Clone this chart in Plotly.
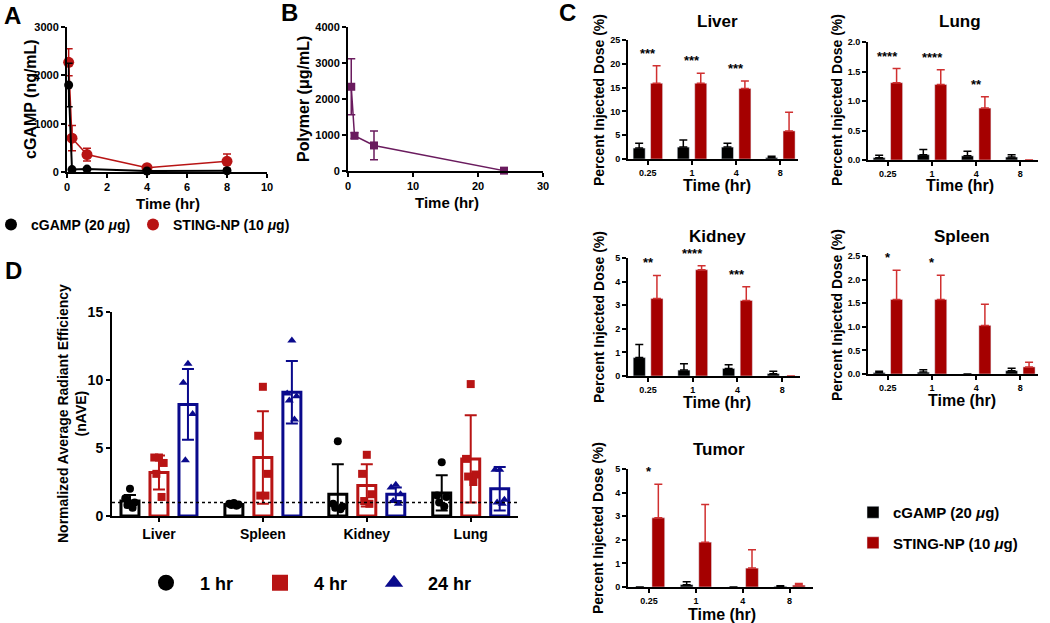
import plotly.graph_objects as go

W, H = 1050, 623

# ---- A: plasma cGAMP (ng/mL)
a_time = [0.083, 0.25, 1, 4, 8]
a_cgamp = [1800, 50, 60, 20, 25]
a_cgamp_sd = [450, 0, 10, 5, 5]
a_np = [2270, 700, 360, 90, 220]
a_np_sd = [280, 260, 130, 40, 150]

# ---- B: plasma polymer (ug/mL)
b_time = [0.5, 1, 4, 24]
b_poly = [2340, 980, 710, 10]
b_poly_sd = [780, 80, 400, 30]

# ---- C: percent injected dose
c_times = ["0.25", "1", "4", "8"]
liver_cgamp = [2.3, 2.5, 2.5, 0.3]
liver_cgamp_sd = [1.0, 1.5, 0.8, 0.3]
liver_np = [15.9, 15.9, 14.8, 5.9]
liver_np_sd = [3.7, 2.1, 1.6, 3.9]
liver_sig = ["***", "***", "***", ""]

lung_cgamp = [0.04, 0.09, 0.07, 0.05]
lung_cgamp_sd = [0.04, 0.09, 0.08, 0.04]
lung_np = [1.31, 1.28, 0.88, 0]
lung_np_sd = [0.24, 0.25, 0.19, 0]
lung_sig = ["****", "****", "**", ""]

kidney_cgamp = [0.78, 0.25, 0.32, 0.1]
kidney_cgamp_sd = [0.55, 0.27, 0.16, 0.1]
kidney_np = [3.28, 4.5, 3.2, 0]
kidney_np_sd = [0.98, 0.17, 0.58, 0]
kidney_sig = ["**", "****", "***", ""]

spleen_cgamp = [0.03, 0.04, 0, 0.07]
spleen_cgamp_sd = [0.03, 0.05, 0, 0.05]
spleen_np = [1.58, 1.58, 1.03, 0.15]
spleen_np_sd = [0.62, 0.51, 0.45, 0.1]
spleen_sig = ["*", "*", "", ""]

tumor_cgamp = [0, 0.1, 0, 0.03]
tumor_cgamp_sd = [0, 0.12, 0, 0.02]
tumor_np = [2.93, 1.9, 0.8, 0.08]
tumor_np_sd = [1.42, 1.6, 0.78, 0.07]
tumor_sig = ["*", "", "", ""]

# ---- D: normalized average radiant efficiency
d_organs = ["Liver", "Spleen", "Kidney", "Lung"]
d_1hr_mean = [1.1, 0.85, 1.6, 1.7]
d_1hr_sd = [0.45, 0.12, 2.2, 1.3]
d_1hr_pts = [[2.0, 1.3, 1.0, 0.8, 0.6], [0.95, 0.9, 0.85, 0.8, 0.75],
             [5.5, 0.9, 0.7, 0.6, 0.5], [3.95, 1.5, 1.4, 1.0, 0.7]]
d_4hr_mean = [3.2, 4.3, 2.25, 4.2]
d_4hr_sd = [1.25, 3.4, 1.55, 3.2]
d_4hr_pts = [[4.3, 4.3, 3.9, 3.1, 1.4], [9.5, 5.9, 3.1, 1.5, 1.5],
             [4.5, 3.1, 1.6, 1.1, 0.9], [9.7, 4.2, 3.05, 2.9, 2.5]]
d_24hr_mean = [8.2, 9.1, 1.6, 2.0]
d_24hr_sd = [2.6, 2.3, 0.5, 1.6]
d_24hr_pts = [[11.2, 9.8, 7.5, 4.1], [12.9, 9.0, 8.8, 8.5, 7.1],
              [2.3, 2.1, 1.6, 1.1, 0.9], [3.4, 3.4, 1.2, 1.0, 0.9]]

BLACK = "#000000"
RED = "#a50000"
RED_ERR = "#d03030"
RED_A = "#b81414"
PURPLE = "#6a1b5e"
BLUE = "#0a0a8c"
FONT = "Liberation Sans, Arial, sans-serif"

JITTER = [0.0, -0.045, 0.045, -0.025, 0.025]
SLOT, BARW = 0.279, 0.173


def dx(x0, x1):
    return [x0 / W, x1 / W]


def dy(y0, y1):
    return [1 - y1 / H, 1 - y0 / H]


def note(x, y, text, size, angle=0):
    return dict(x=x / W, y=1 - y / H, xref="paper", yref="paper", text=text,
                showarrow=False, textangle=angle, xanchor="center", yanchor="middle",
                font=dict(size=size, family=FONT, color="black", weight="bold"))


def axis(**kw):
    base = dict(showline=True, linecolor="black", linewidth=2, ticks="outside",
                ticklen=4, tickwidth=1.5, tickcolor="black", showgrid=False,
                zeroline=False, tickfont=dict(size=10, family=FONT, weight="bold"))
    base.update(kw)
    return base


fig = go.Figure()

# ---- A
fig.add_trace(go.Scatter(
    x=a_time, y=a_np, mode="lines+markers", xaxis="x", yaxis="y",
    line=dict(color=RED_A, width=1.5), marker=dict(size=11, color=RED_A),
    error_y=dict(array=a_np_sd, color=RED_A, thickness=1.5, width=4),
    showlegend=False, cliponaxis=False))
fig.add_trace(go.Scatter(
    x=a_time, y=a_cgamp, mode="lines+markers", xaxis="x", yaxis="y",
    line=dict(color=BLACK, width=2), marker=dict(size=9, color=BLACK),
    error_y=dict(array=a_cgamp_sd, color=BLACK, thickness=1.5, width=4),
    showlegend=False, cliponaxis=False))
for name, col, lw in [("cGAMP (20 <i>μ</i>g)", BLACK, 97), ("STING-NP (10 <i>μ</i>g)", RED_A, 150)]:
    fig.add_trace(go.Scatter(x=[None], y=[None], mode="markers", name=name,
                             marker=dict(size=12, color=col), xaxis="x", yaxis="y",
                             legend="legend", legendwidth=lw))

# ---- B
fig.add_trace(go.Scatter(
    x=b_time, y=b_poly, mode="lines+markers", xaxis="x2", yaxis="y2",
    line=dict(color=PURPLE, width=1.5), marker=dict(size=8, color=PURPLE, symbol="square"),
    error_y=dict(array=b_poly_sd, color=PURPLE, thickness=1.5, width=4),
    showlegend=False, cliponaxis=False))

# ---- C
organs_c = [
    ("Liver", liver_cgamp, liver_cgamp_sd, liver_np, liver_np_sd, liver_sig, "3"),
    ("Lung", lung_cgamp, lung_cgamp_sd, lung_np, lung_np_sd, lung_sig, "4"),
    ("Kidney", kidney_cgamp, kidney_cgamp_sd, kidney_np, kidney_np_sd, kidney_sig, "5"),
    ("Spleen", spleen_cgamp, spleen_cgamp_sd, spleen_np, spleen_np_sd, spleen_sig, "6"),
    ("Tumor", tumor_cgamp, tumor_cgamp_sd, tumor_np, tumor_np_sd, tumor_sig, "7"),
]
annotations = []
for k, (organ, cg, cg_sd, np_, np_sd, sig, ax) in enumerate(organs_c):
    first = k == 0
    fig.add_trace(go.Bar(
        x=c_times, y=cg, xaxis="x" + ax, yaxis="y" + ax, marker_color=BLACK,
        error_y=dict(array=cg_sd, arrayminus=[0] * 4, symmetric=False,
                     color=BLACK, thickness=1.5, width=4),
        name="cGAMP (20 <i>μ</i>g)", legendgroup="cgamp", showlegend=first,
        legend="legend2"))
    fig.add_trace(go.Bar(
        x=c_times, y=np_, xaxis="x" + ax, yaxis="y" + ax, marker_color=RED,
        error_y=dict(array=np_sd, arrayminus=[0] * 4, symmetric=False,
                     color=RED_ERR, thickness=1.5, width=4),
        name="STING-NP (10 <i>μ</i>g)", legendgroup="np", showlegend=first,
        legend="legend2"))
    # significance stars, placed by category index above the error bar
    for i, (s, v, e) in enumerate(zip(sig, np_, np_sd)):
        if s:
            annotations.append(dict(
                x=i, y=v + e, xref="x" + ax, yref="y" + ax, text=s, showarrow=False,
                yanchor="bottom", yshift=3,
                font=dict(size=13, family=FONT, color="black", weight="bold")))

# ---- D
d_groups = [
    ("1 hr", d_1hr_mean, d_1hr_sd, d_1hr_pts, BLACK, "circle", 41),
    ("4 hr", d_4hr_mean, d_4hr_sd, d_4hr_pts, RED_A, "square", 41),
    ("24 hr", d_24hr_mean, d_24hr_sd, d_24hr_pts, BLUE, "triangle-up", 60),
]
d_pos = list(range(len(d_organs)))
for k, (lab, mean, sd, pts, col, sym, lw) in enumerate(d_groups):
    shift = (k - 1) * SLOT
    fig.add_trace(go.Bar(
        x=d_pos, y=mean, xaxis="x8", yaxis="y8", width=BARW, offset=shift - BARW / 2,
        marker=dict(color="rgba(255,255,255,0)", line=dict(color=col, width=3)),
        error_y=dict(array=sd, color=col, thickness=2, width=6), showlegend=False))
    px_, py_ = [], []
    for i, group in enumerate(pts):
        for j, v in enumerate(group):
            px_.append(i + shift + JITTER[j])
            py_.append(v)
    fig.add_trace(go.Scatter(
        x=px_, y=py_, mode="markers", xaxis="x8", yaxis="y8",
        marker=dict(size=8, color=col, symbol=sym), showlegend=False, cliponaxis=False))
    fig.add_trace(go.Scatter(
        x=[None], y=[None], mode="markers", name=lab, xaxis="x8", yaxis="y8",
        marker=dict(size=18, color=col, symbol=sym), legend="legend3", legendwidth=lw))

fig.add_shape(type="line", xref="x8 domain", yref="y8", x0=0, x1=1, y0=1, y1=1,
              line=dict(color="black", width=1.5, dash="dot"))

# ---- text labels
annotations += [
    note(12, 15, "A", 24), note(289, 13, "B", 24), note(567, 13, "C", 24), note(13, 270, "D", 24),
    note(30, 99, "cGAMP (ng/mL)", 16, -90), note(168, 203, "Time (hr)", 15),
    note(303, 99, "Polymer (μg/mL)", 16, -90), note(447, 202, "Time (hr)", 15),
    note(717, 22, "Liver", 17), note(960, 22, "Lung", 17),
    note(717, 237, "Kidney", 17), note(962, 236, "Spleen", 17), note(719, 449, "Tumor", 17),
    note(599, 100, "Percent Injected Dose (%)", 14, -90),
    note(837, 100, "Percent Injected Dose (%)", 14, -90),
    note(599, 317, "Percent Injected Dose (%)", 14, -90),
    note(837, 315, "Percent Injected Dose (%)", 14, -90),
    note(598, 528, "Percent Injected Dose (%)", 14, -90),
    note(717, 185, "Time (hr)", 16), note(960, 185, "Time (hr)", 16),
    note(717, 402, "Time (hr)", 16), note(962, 400, "Time (hr)", 16),
    note(722, 614, "Time (hr)", 16),
    note(72, 414, "Normalized Average Radiant Efficiency<br>(nAVE)", 14, -90),
]

c_tick = dict(size=9, family=FONT, weight="bold")
fig.update_layout(
    width=W, height=H, margin=dict(l=0, r=0, t=0, b=0, pad=0, autoexpand=False),
    plot_bgcolor="white", paper_bgcolor="white",
    font=dict(family=FONT, color="black", weight="bold"),
    barmode="group", bargap=0.21, bargroupgap=0.31,
    xaxis=axis(domain=dx(67, 267), range=[0, 10], dtick=2, anchor="y",
               tickfont=dict(size=11, family=FONT, weight="bold")),
    yaxis=axis(domain=dy(27, 172), range=[0, 3000], dtick=1000, anchor="x",
               tickfont=dict(size=11, family=FONT, weight="bold")),
    xaxis2=axis(domain=dx(348, 543), range=[0, 30], dtick=10, anchor="y2",
                tickfont=dict(size=11, family=FONT, weight="bold")),
    yaxis2=axis(domain=dy(27, 171), range=[0, 4000], dtick=1000, anchor="x2",
                tickfont=dict(size=11, family=FONT, weight="bold")),
    xaxis3=axis(domain=dx(628, 798), range=[-0.45, 3.4], anchor="y3", tickfont=c_tick),
    yaxis3=axis(domain=dy(40, 159), range=[0, 25], dtick=5, anchor="x3", tickfont=c_tick),
    xaxis4=axis(domain=dx(868, 1038), range=[-0.45, 3.4], anchor="y4", tickfont=c_tick),
    yaxis4=axis(domain=dy(42, 160), range=[0, 2], dtick=0.5, tickformat=".1f",
                anchor="x4", tickfont=c_tick),
    xaxis5=axis(domain=dx(628, 800), range=[-0.45, 3.4], anchor="y5", tickfont=c_tick),
    yaxis5=axis(domain=dy(258, 376), range=[0, 5], dtick=1, anchor="x5", tickfont=c_tick),
    xaxis6=axis(domain=dx(868, 1038), range=[-0.45, 3.4], anchor="y6", tickfont=c_tick),
    yaxis6=axis(domain=dy(256, 374), range=[0, 2.5], dtick=0.5, tickformat=".1f",
                anchor="x6", tickfont=c_tick),
    xaxis7=axis(domain=dx(628, 813), range=[-0.45, 3.5], anchor="y7", tickfont=c_tick),
    yaxis7=axis(domain=dy(469, 587), range=[0, 5], dtick=1, anchor="x7", tickfont=c_tick),
    xaxis8=axis(domain=dx(112, 518), range=[-0.452, 3.455], anchor="y8",
                tickvals=d_pos, ticktext=d_organs,
                tickfont=dict(size=14, family=FONT, weight="bold")),
    yaxis8=axis(domain=dy(312, 516), range=[0, 15], dtick=5, anchor="x8",
                tickfont=dict(size=14, family=FONT, weight="bold")),
    legend=dict(orientation="h", x=-9 / W, y=1 - 225 / H, xanchor="left", yanchor="middle",
                font=dict(size=14, family=FONT, weight="bold"), itemsizing="constant",
                bgcolor="rgba(0,0,0,0)"),
    legend2=dict(orientation="v", x=853 / W, y=1 - 496 / H, xanchor="left", yanchor="top",
                 font=dict(size=15, family=FONT, weight="bold"), traceorder="grouped",
                 tracegroupgap=8, bgcolor="rgba(0,0,0,0)"),
    legend3=dict(orientation="h", x=132 / W, y=1 - 583 / H, xanchor="left", yanchor="middle",
                 font=dict(size=18, family=FONT, weight="bold"), itemwidth=58,
                 itemsizing="trace", bgcolor="rgba(0,0,0,0)"),
    annotations=annotations,
)

# the page body has a default 8px margin; drop it so the figure sits at the corner
fig.write_html("out.html", config={"displayModeBar": False},
               post_script="document.body.style.margin='0';")
